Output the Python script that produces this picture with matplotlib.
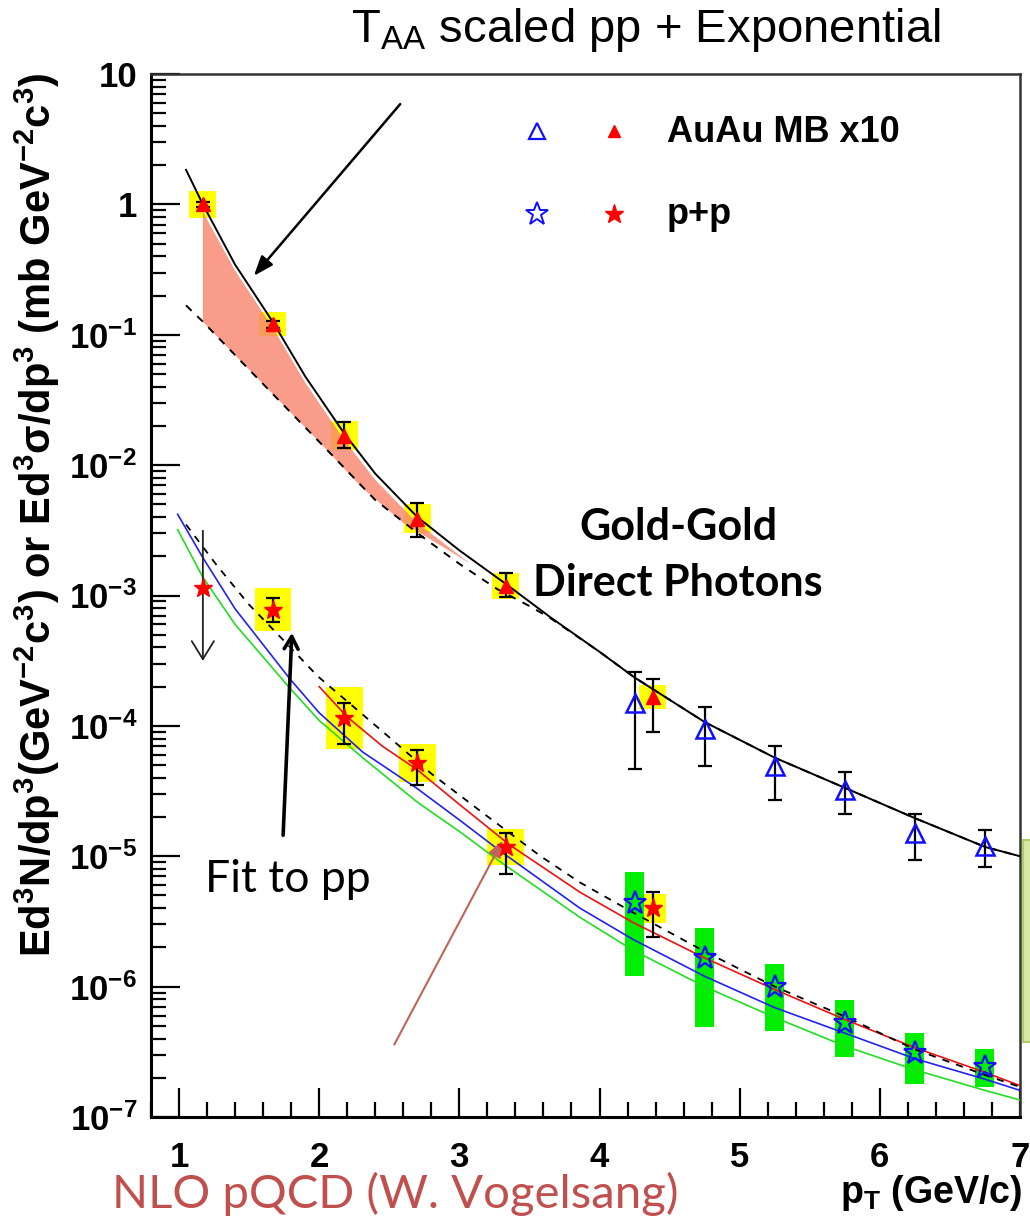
import numpy as np
import matplotlib
matplotlib.use("Agg")
import matplotlib.pyplot as plt
from matplotlib.patches import Rectangle
from matplotlib.ticker import FixedLocator, FixedFormatter, LogLocator, MultipleLocator, NullFormatter

plt.rcParams['font.family'] = ['Liberation Sans', 'DejaVu Sans']
plt.rcParams['mathtext.fontset'] = 'custom'
plt.rcParams['mathtext.rm'] = 'Liberation Sans'
plt.rcParams['mathtext.bf'] = 'Liberation Sans:bold'
plt.rcParams['mathtext.it'] = 'Liberation Sans:italic'
plt.rcParams['mathtext.sf'] = 'Liberation Sans'

# ---------------- data ----------------
# AuAu MB x10 (red filled triangles, yellow systematic boxes)
auau_pt = [1.17, 1.67, 2.18, 2.70, 3.33, 4.38]
auau_y = [1.0, 0.121, 0.0168, 0.00386, 0.00119, 1.67e-4]
auau_err_hi = [1.05, 0.128, 0.0214, 0.0051, 0.0015, 2.29e-4]
auau_err_lo = [0.95, 0.112, 0.0136, 0.0028, 0.00097, 9.0e-5]
auau_sys_hi = [1.26, 0.149, 0.0217, 0.0050, 0.0015, 2.07e-4]
auau_sys_lo = [0.79, 0.098, 0.0130, 0.0030, 0.00094, 1.35e-4]
auau_sys_dx = [0.096, 0.096, 0.096, 0.096, 0.096, 0.096]

# AuAu MB x10, second set (blue open triangles)
auau2_pt = [4.25, 4.75, 5.25, 5.75, 6.25, 6.75]
auau2_y = [1.5e-4, 9.5e-5, 4.9e-5, 3.2e-5, 1.5e-5, 1.2e-5]
auau2_err_hi = [2.6e-4, 1.4e-4, 7.0e-5, 4.4e-5, 2.1e-5, 1.6e-5]
auau2_err_lo = [4.7e-5, 4.9e-5, 2.7e-5, 2.1e-5, 9.4e-6, 8.3e-6]

# p+p (red filled stars, yellow boxes); first point is an upper limit
pp_ul_pt = 1.17
pp_ul_y = 1.14e-3
pp_ul_top = 3.3e-3
pp_ul_bottom = 3.0e-4
pp_pt = [1.67, 2.18, 2.70, 3.33, 4.38]
pp_y = [7.76e-4, 1.15e-4, 5.2e-5, 1.18e-5, 4.0e-6]
pp_err_hi = [9.5e-4, 1.5e-4, 6.5e-5, 1.5e-5, 5.3e-6]
pp_err_lo = [6.3e-4, 7.3e-5, 3.5e-5, 7.3e-6, 2.4e-6]
pp_sys_hi = [1.14e-3, 1.97e-4, 7.2e-5, 1.62e-5, 5.1e-6]
pp_sys_lo = [5.3e-4, 6.7e-5, 3.7e-5, 8.6e-6, 3.1e-6]
pp_sys_dx = [0.13, 0.13, 0.13, 0.13, 0.096]

# p+p second set (blue open stars, green boxes)
pp2_pt = [4.25, 4.75, 5.25, 5.75, 6.25, 6.75]
pp2_y = [4.4e-6, 1.66e-6, 1.0e-6, 5.3e-7, 3.1e-7, 2.4e-7]
pp2_sys_hi = [7.6e-6, 2.8e-6, 1.5e-6, 7.9e-7, 4.4e-7, 3.3e-7]
pp2_sys_lo = [1.21e-6, 4.9e-7, 4.6e-7, 2.9e-7, 1.8e-7, 1.7e-7]
pp2_sys_dx = [0.068, 0.068, 0.068, 0.068, 0.068, 0.068]

# Curves
auau_fit_pt = [1.05, 1.17, 1.4, 1.67, 1.9, 2.18, 2.4, 2.7, 3.0, 3.33, 3.65, 4.0, 4.25, 4.75, 5.25, 5.75,
               6.25, 6.75, 7.0]
auau_fit_y = [1.84, 1.0, 0.345, 0.125, 0.048, 0.0174, 0.0086, 0.0040, 0.00222, 0.00123, 6.8e-4, 3.7e-4,
              2.35e-4, 1.07e-4, 5.7e-5, 3.35e-5, 1.96e-5, 1.18e-5, 1.0e-5]
taa_pp_pt = [1.05, 1.17, 1.5, 2.0, 2.4, 2.74, 3.0, 3.27, 3.5, 3.65, 4.0, 4.25, 4.75, 5.25, 5.75, 6.25,
             6.75, 7.0]
taa_pp_y = [0.168, 0.126, 0.054, 0.0151, 0.0054, 0.0028, 0.00175, 0.00112, 8.3e-4, 6.7e-4, 3.7e-4,
            2.35e-4, 1.07e-4, 5.7e-5, 3.35e-5, 1.96e-5, 1.18e-5, 1.0e-5]
band_up_pt = [1.17, 1.4, 1.67, 1.9, 2.18, 2.4, 2.7, 3.08]
band_up_y = [0.88, 0.31, 0.113, 0.043, 0.0155, 0.0077, 0.0036, 0.00175]
band_lo_pt = [1.17, 1.5, 2.0, 2.3, 2.6, 2.9, 3.08]
band_lo_y = [0.126, 0.054, 0.0151, 0.0068, 0.0036, 0.0023, 0.00175]

ppfit_pt = [2.0, 2.2, 2.45, 2.7, 3.0, 3.36, 3.86, 4.24, 4.75, 5.25, 5.75, 6.25, 6.75, 7.0]
ppfit_y = [2.0e-4, 1.17e-4, 7.0e-5, 4.6e-5, 2.5e-5, 1.22e-5, 5.3e-6, 3.1e-6, 1.66e-6, 9.5e-7, 5.6e-7,
           3.4e-7, 2.2e-7, 1.74e-7]
nlo_pt = [0.99, 1.17, 1.4, 1.79, 2.0, 2.31, 2.7, 3.0, 3.29, 3.86, 4.24, 4.75, 5.25, 5.75, 6.25, 6.75, 7.0]
nlo_blue_y = [4.2e-3, 1.95e-3, 7.9e-4, 2.3e-4, 1.26e-4, 6.3e-5, 3.3e-5, 1.9e-5, 1.1e-5, 4.0e-6, 2.3e-6,
              1.2e-6, 6.9e-7, 4.4e-7, 2.8e-7, 1.95e-7, 1.6e-7]
nlo_green_y = [3.2e-3, 1.38e-3, 6.0e-4, 1.95e-4, 1.1e-4, 5.7e-5, 2.6e-5, 1.55e-5, 9.1e-6, 3.4e-6, 1.9e-6,
               1.0e-6, 5.8e-7, 3.5e-7, 2.3e-7, 1.6e-7, 1.35e-7]
pp_dash_pt = [1.05, 1.27, 1.5, 1.7, 1.99, 2.46, 2.8, 3.17, 3.58, 3.86, 4.24, 4.75, 5.25, 5.75, 6.25, 6.75, 7.0]
pp_dash_y = [3.5e-3, 1.7e-3, 8.5e-4, 5.1e-4, 2.4e-4, 8.9e-5, 4.3e-5, 2.14e-5, 1.0e-5, 6.3e-6, 3.7e-6,
             1.86e-6, 1.0e-6, 5.9e-7, 3.3e-7, 2.1e-7, 1.7e-7]

xtick_vals = [1, 2, 3, 4, 5, 6, 7]
xtick_labels = ['1', '2', '3', '4', '5', '6', '7']
ytick_vals = [1e-7, 1e-6, 1e-5, 1e-4, 1e-3, 1e-2, 1e-1, 1, 10]
ytick_labels = [r'$\mathbf{10^{-7}}$', r'$\mathbf{10^{-6}}$', r'$\mathbf{10^{-5}}$', r'$\mathbf{10^{-4}}$',
                r'$\mathbf{10^{-3}}$', r'$\mathbf{10^{-2}}$', r'$\mathbf{10^{-1}}$', '1', '10']

# ---------------- figure ----------------
W, H = 1030, 1222
fig = plt.figure(figsize=(W / 100, H / 100), dpi=100)
L, R, T, B = 151, 1020, 74, 1117
ax = fig.add_axes([L / W, 1 - B / H, (R - L) / W, (B - T) / H])
ax.set_yscale('log')
ax.set_xlim(0.8, 7.0)
ax.set_ylim(1e-7, 10)


def fx(x):
    return x / W


def fy(y):
    return 1 - y / H


# systematic boxes
def boxes(pts, lo, hi, dx, color, z):
    for p, l, h, d in zip(pts, lo, hi, dx):
        ax.add_patch(Rectangle((p - d, l), 2 * d, h - l, facecolor=color, edgecolor='none', zorder=z))


boxes(auau_pt, auau_sys_lo, auau_sys_hi, auau_sys_dx, '#ffff00', 1)
boxes(pp_pt, pp_sys_lo, pp_sys_hi, pp_sys_dx, '#ffff00', 1)
boxes(pp2_pt, pp2_sys_lo, pp2_sys_hi, pp2_sys_dx, '#00ee00', 1)

# salmon band
bx = list(band_up_pt) + list(band_lo_pt[::-1])
by = list(band_up_y) + list(band_lo_y[::-1])
ax.fill(bx, by, facecolor='#f8866f', alpha=0.82, edgecolor='none', zorder=2)

# curves
ax.plot(auau_fit_pt, auau_fit_y, color='black', lw=1.4, zorder=3)
ax.plot(taa_pp_pt, taa_pp_y, color='black', lw=1.4, ls=(0, (4, 4)), zorder=3)
ax.plot(nlo_pt, nlo_green_y, color='#22dd22', lw=1.2, zorder=3)
ax.plot(nlo_pt, nlo_blue_y, color='#2222ee', lw=1.2, zorder=3)
ax.plot(ppfit_pt, ppfit_y, color='#ee1111', lw=1.2, zorder=3)
ax.plot(pp_dash_pt, pp_dash_y, color='black', lw=1.3, ls=(0, (4, 4)), zorder=3)

# error bars
ek = dict(fmt='none', ecolor='black', elinewidth=1.6, capsize=5, capthick=1.6, zorder=4)
ax.errorbar(auau_pt, auau_y, yerr=[np.array(auau_y) - np.array(auau_err_lo), np.array(auau_err_hi) - np.array(auau_y)], **ek)
ax.errorbar(auau2_pt, auau2_y, yerr=[np.array(auau2_y) - np.array(auau2_err_lo), np.array(auau2_err_hi) - np.array(auau2_y)], **ek)
ax.errorbar(pp_pt, pp_y, yerr=[np.array(pp_y) - np.array(pp_err_lo), np.array(pp_err_hi) - np.array(pp_y)], **ek)

# markers
ax.plot(auau_pt, auau_y, ls='none', marker='^', ms=10, mfc='red', mec='red', zorder=5)
ax.plot(auau2_pt, auau2_y, ls='none', marker='^', ms=13, mfc='none', mec='#1010ff', mew=1.8, zorder=5)
ax.plot(pp_pt, pp_y, ls='none', marker='*', ms=14, mfc='red', mec='red', zorder=5)
ax.plot([pp_ul_pt], [pp_ul_y], ls='none', marker='*', ms=14, mfc='red', mec='red', zorder=5)
ax.plot(pp2_pt, pp2_y, ls='none', marker='*', ms=17, mfc='none', mec='#1010ff', mew=1.6, zorder=5)

# upper limit arrow
ax.annotate('', xy=(pp_ul_pt, pp_ul_bottom), xytext=(pp_ul_pt, pp_ul_top),
            arrowprops=dict(arrowstyle='->,head_length=1.3,head_width=0.8', color='#222222', lw=1.3),
            zorder=4)

# axes styling
for s in ['top', 'right']:
    ax.spines[s].set_linewidth(1.8)
    ax.spines[s].set_color('#333333')
for s in ['left', 'bottom']:
    ax.spines[s].set_linewidth(2.2)
ax.yaxis.set_major_locator(FixedLocator(ytick_vals))
ax.yaxis.set_major_formatter(FixedFormatter(ytick_labels))
ax.yaxis.set_minor_locator(LogLocator(base=10, subs=np.arange(2, 10), numticks=20))
ax.yaxis.set_minor_formatter(NullFormatter())
ax.xaxis.set_major_locator(FixedLocator(xtick_vals))
ax.xaxis.set_major_formatter(FixedFormatter(xtick_labels))
ax.xaxis.set_minor_locator(MultipleLocator(0.2))
ax.tick_params(which='major', direction='in', length=21, width=1.6, top=False, right=False)
ax.tick_params(which='minor', direction='in', length=10.5, width=1.6, top=False, right=False)
ax.tick_params(axis='y', which='major', pad=10, labelsize=25)
ax.tick_params(axis='x', which='major', pad=17, labelsize=25)
for lab in ax.get_xticklabels() + ax.get_yticklabels():
    lab.set_fontweight('bold')

# axis labels
fig.text(fx(37), fy(515),
         r'$\mathbf{Ed^{3}N/dp^{3}(GeV^{-2}c^{3})\ or\ Ed^{3}\sigma/dp^{3}\ (mb\ GeV^{-2}c^{3})}$',
         rotation=90, ha='center', va='center', fontsize=30, fontweight='bold')
fig.text(fx(1022), fy(1193), r'$\mathbf{p_{T}}$ (GeV/c)', ha='right', va='center', fontsize=27, fontweight='bold')

# legend (manual)
ax.plot([fx(537)], [fy(131)], transform=fig.transFigure, marker='^', ms=11, mfc='none', mec='#1010ff', mew=1.6, clip_on=False)
ax.plot([fx(614)], [fy(131)], transform=fig.transFigure, marker='^', ms=8, mfc='red', mec='red', clip_on=False)
ax.plot([fx(537)], [fy(214)], transform=fig.transFigure, marker='*', ms=17, mfc='none', mec='#1010ff', mew=1.4, clip_on=False)
ax.plot([fx(614)], [fy(214)], transform=fig.transFigure, marker='*', ms=14, mfc='red', mec='red', clip_on=False)
fig.text(fx(667), fy(133), 'AuAu MB x10', ha='left', va='center', fontsize=26, fontweight='bold')
fig.text(fx(667), fy(214), 'p+p', ha='left', va='center', fontsize=26, fontweight='bold')

# annotations
fig.text(fx(646), fy(30), r'T$_{\mathrm{AA}}$ scaled pp + Exponential', ha='center', va='center', fontsize=34)
ax.annotate('', xy=(fx(252), fy(278)), xytext=(fx(402), fy(102)), xycoords='figure fraction',
            textcoords='figure fraction',
            arrowprops=dict(arrowstyle='-|>,head_length=1.2,head_width=0.45', color='black', lw=1.8))
fig.text(fx(678), fy(527), 'Gold-Gold', ha='center', va='center', fontsize=31, fontweight='bold', family='Lato')
fig.text(fx(678), fy(583), 'Direct Photons', ha='center', va='center', fontsize=31, fontweight='bold', family='Lato')
fig.text(fx(288), fy(880), 'Fit to pp', ha='center', va='center', fontsize=32, family='Lato')
ax.annotate('', xy=(fx(292), fy(630)), xytext=(fx(283), fy(838)), xycoords='figure fraction',
            textcoords='figure fraction',
            arrowprops=dict(arrowstyle='->,head_length=0.9,head_width=0.5', color='black', lw=2.6))
fig.text(fx(395), fy(1194), 'NLO pQCD (W. Vogelsang)', ha='center', va='center', fontsize=34,
         family='Lato', color='#c0504d')
ax.annotate('', xy=(fx(504), fy(838)), xytext=(fx(393), fy(1047)), xycoords='figure fraction',
            textcoords='figure fraction',
            arrowprops=dict(arrowstyle='-|>,head_length=1.0,head_width=0.4', color='#c0645a', lw=1.5))

# partial green panel at right edge
fig.patches.append(Rectangle((fx(1023), fy(1042)), fx(20), (1042 - 840) / H, transform=fig.transFigure,
                             facecolor='#d6e8a2', edgecolor='#aecb6e', lw=1.5, zorder=0))

fig.savefig('out.png', dpi=100)
